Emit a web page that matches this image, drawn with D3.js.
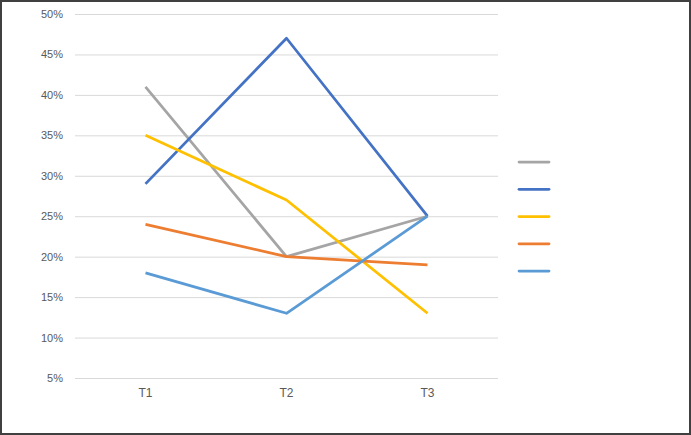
<!DOCTYPE html>
<html><head><meta charset="utf-8">
<script src="https://cdn.jsdelivr.net/npm/d3@7"></script>
<style>html,body{margin:0;padding:0;background:#fff}svg{display:block}</style>
</head><body>
<script>
const categories = ["T1", "T2", "T3"];
const seriesNames = ["S1", "S2", "S3", "S4", "S5"];
const seriesColors = ["#A5A5A5", "#4472C4", "#FFC000", "#ED7D31", "#5B9BD5"];
const s1 = [41, 20, 25];
const s2 = [29, 47, 25];
const s3 = [35, 27, 13];
const s4 = [24, 20, 19];
const s5 = [18, 13, 25];
const yTicks = [5, 10, 15, 20, 25, 30, 35, 40, 45, 50];
const seriesValues = [s1, s2, s3, s4, s5];

const W = 691, H = 435;
const svg = d3.select("body").append("svg").attr("width", W).attr("height", H);
svg.append("rect").attr("x", 1).attr("y", 1).attr("width", W - 2).attr("height", H - 2)
  .attr("fill", "#fff").attr("stroke", "#404040").attr("stroke-width", 2);

const x = d3.scaleBand().domain(categories).range([75, 498]);
const y = d3.scaleLinear().domain([5, 50]).range([378, 14]);

const gy = svg.append("g").attr("transform", "translate(75,0)")
  .call(d3.axisLeft(y).tickValues(yTicks).tickFormat(d => d + "%").tickSize(-423).tickPadding(12));
gy.select(".domain").remove();
gy.selectAll("line").attr("stroke", "#D9D9D9").attr("stroke-width", 1);
gy.selectAll("text").attr("fill", "#595959").attr("font-size", 11).attr("font-family", "Liberation Sans, Arial, sans-serif");

const gx = svg.append("g").attr("transform", "translate(0,378)")
  .call(d3.axisBottom(x).tickSize(0).tickPadding(10));
gx.select(".domain").remove();
gx.selectAll("text").attr("fill", "#595959").attr("font-size", 12).attr("font-family", "Liberation Sans, Arial, sans-serif");

const line = d3.line().x((d, i) => x(categories[i]) + x.bandwidth() / 2).y(d => y(d));
seriesValues.forEach((vals, k) => {
  svg.append("path").datum(vals).attr("d", line).attr("fill", "none")
    .attr("stroke", seriesColors[k]).attr("stroke-width", 2.75).attr("stroke-linejoin", "round");
});

const legY = d3.scalePoint().domain(seriesNames).range([162, 271]);
seriesNames.forEach((n, k) => {
  svg.append("line").attr("x1", 519).attr("x2", 549).attr("y1", legY(n)).attr("y2", legY(n))
    .attr("stroke", seriesColors[k]).attr("stroke-width", 2.75).attr("stroke-linecap", "round");
});
</script>
</body></html>
